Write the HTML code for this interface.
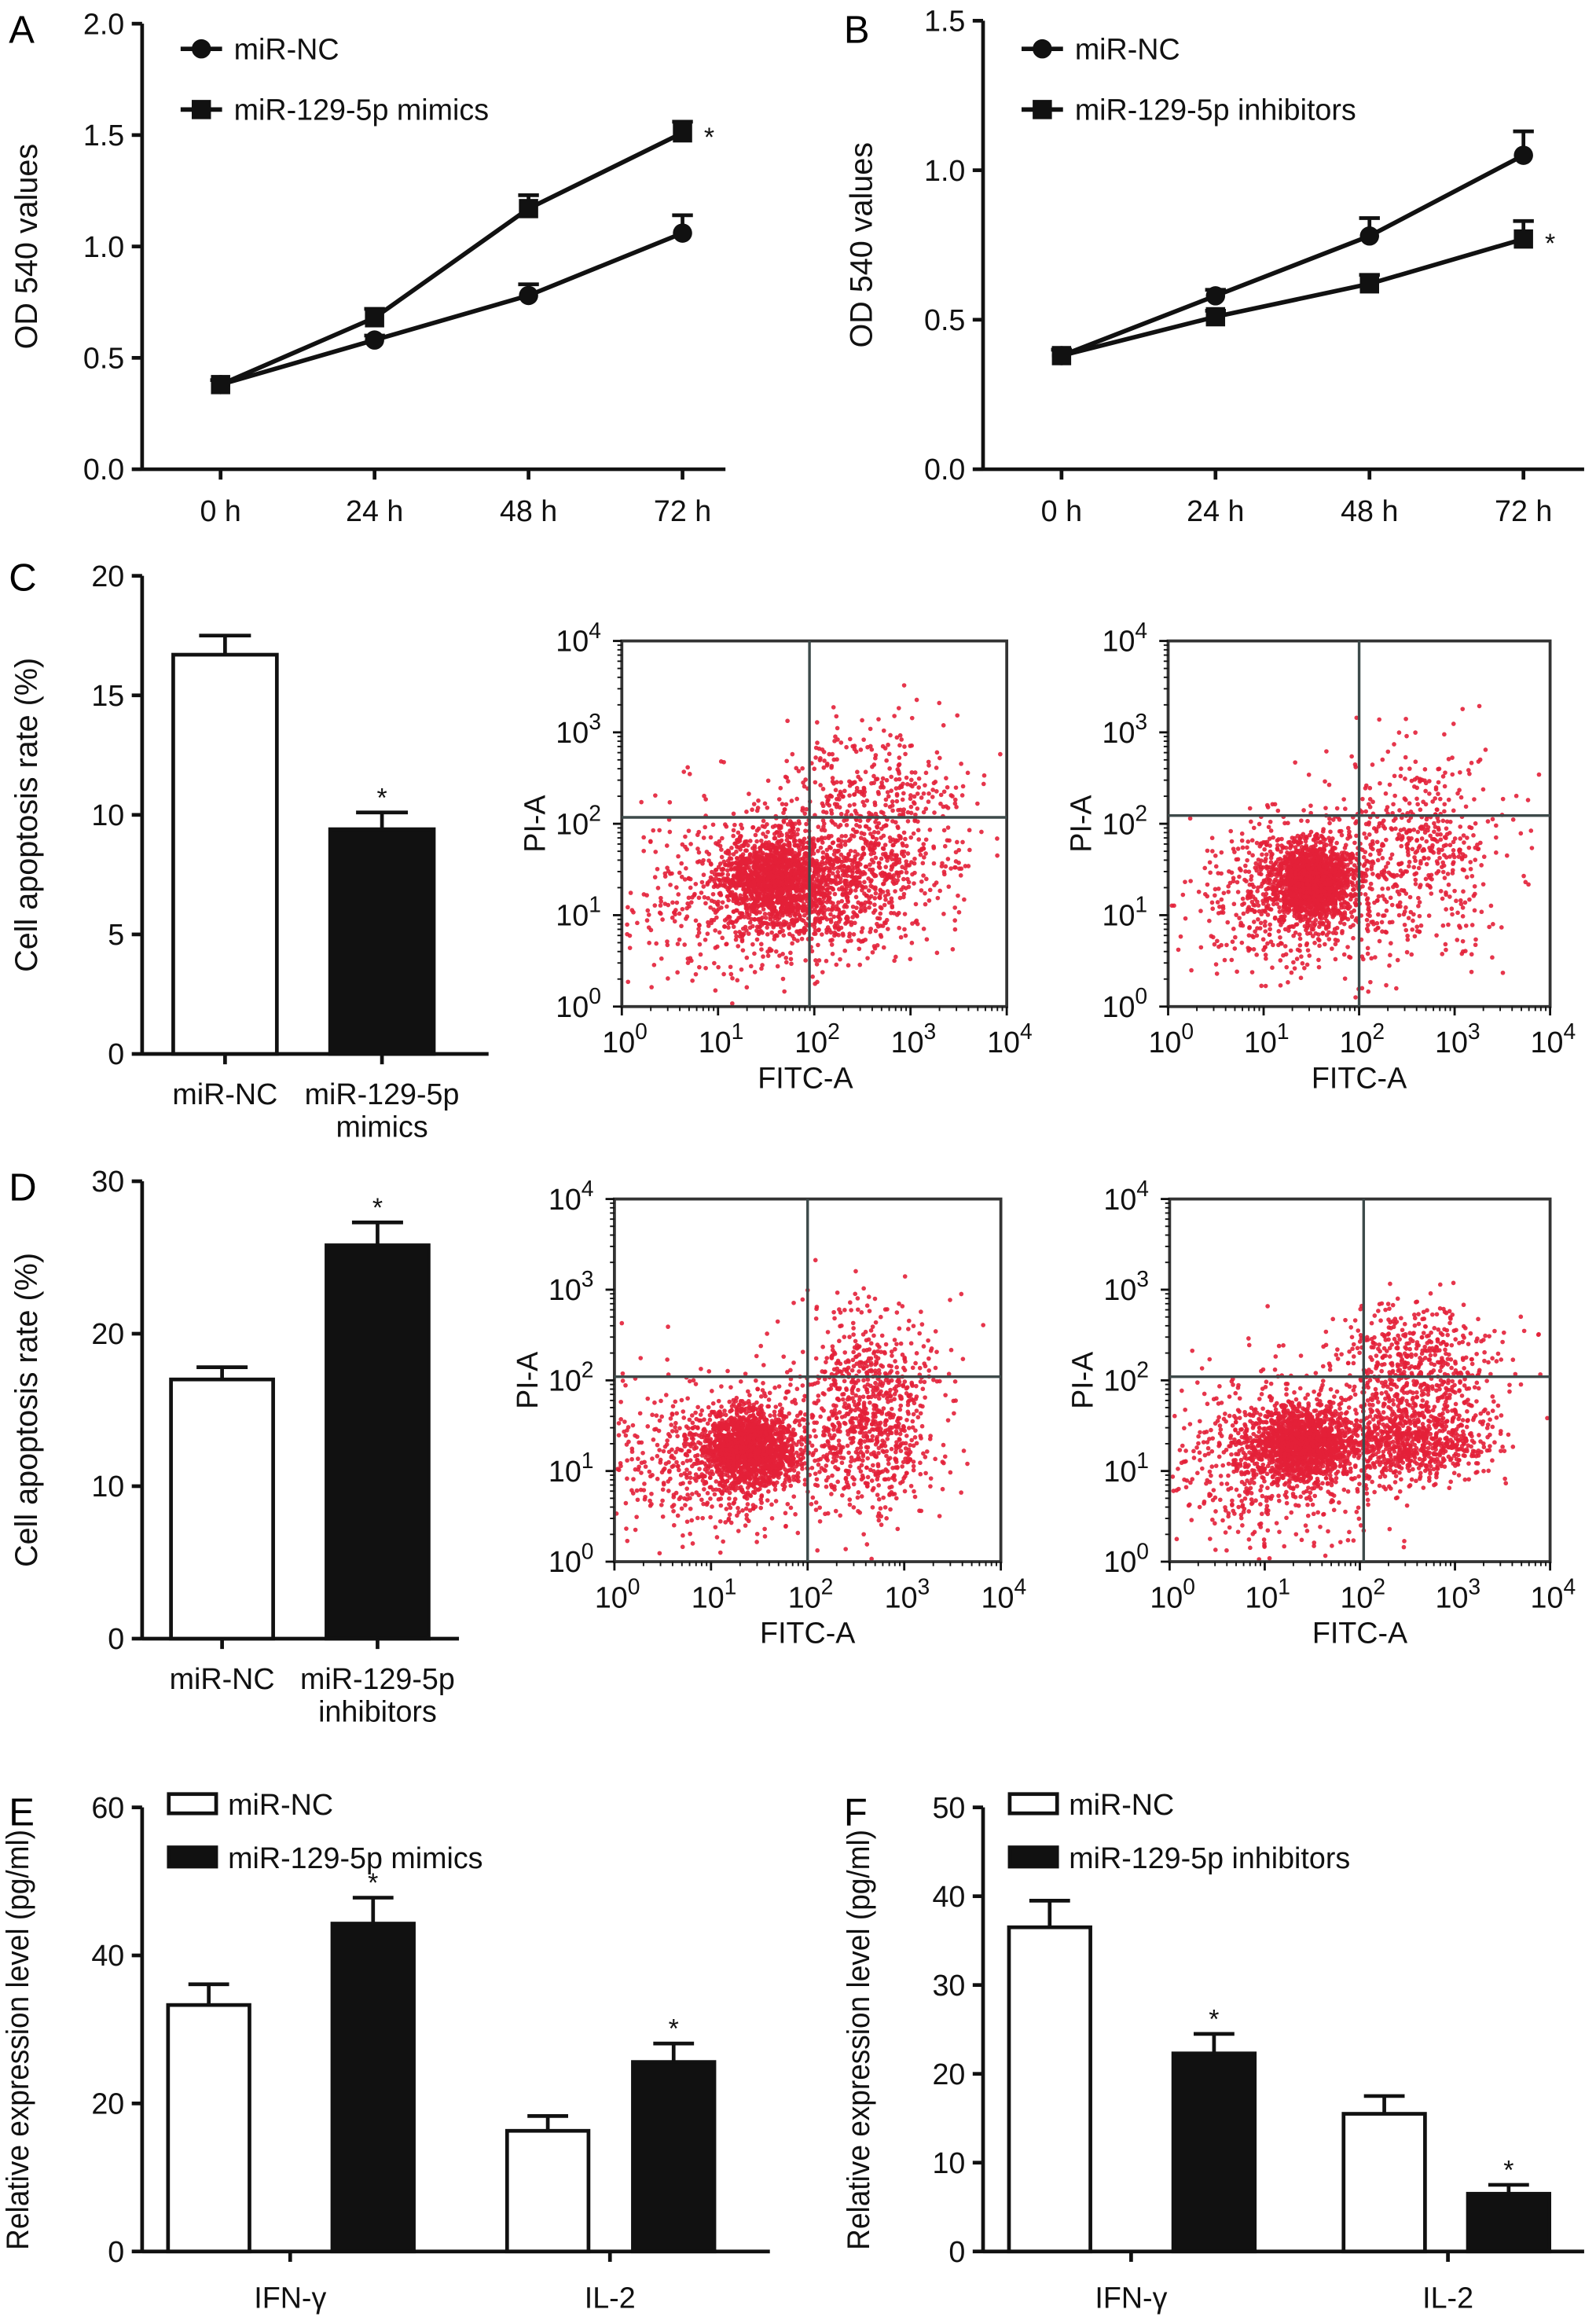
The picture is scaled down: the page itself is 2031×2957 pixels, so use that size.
<!DOCTYPE html>
<html><head><meta charset="utf-8">
<style>
html,body{margin:0;padding:0;background:#fff;}
svg{display:block;font-family:"Liberation Sans",Arial,sans-serif;}
</style></head>
<body>
<svg id="fig" xmlns="http://www.w3.org/2000/svg" width="2031" height="2957" viewBox="0 0 1078 1570" preserveAspectRatio="none">
<rect x="0" y="0" width="1078" height="1570" fill="#fff"/>
<text x="6" y="29" font-size="26">A</text>
<text x="570" y="29" font-size="26">B</text>
<text x="6" y="399" font-size="26">C</text>
<text x="6" y="811" font-size="26">D</text>
<text x="6" y="1233" font-size="26">E</text>
<text x="570" y="1233" font-size="26">F</text>
</svg>
<script>
// ---- Panel A data ----
const aCats = ['0 h','24 h','48 h','72 h'];
const aNC = [0.38,0.58,0.78,1.06];
const aNCerr = [0.02,0.02,0.05,0.08];
const aMim = [0.38,0.68,1.17,1.51];
const aMimErr = [0.02,0.04,0.06,0.05];
const aTicks = [0,0.5,1.0,1.5,2.0];
const aTickLabels = ['0.0','0.5','1.0','1.5','2.0'];
// ---- Panel B data ----
const bCats = ['0 h','24 h','48 h','72 h'];
const bNC = [0.38,0.58,0.78,1.05];
const bNCerr = [0.02,0.02,0.06,0.08];
const bInh = [0.38,0.51,0.62,0.77];
const bInhErr = [0.02,0.02,0.03,0.06];
const bTicks = [0,0.5,1.0,1.5];
const bTickLabels = ['0.0','0.5','1.0','1.5'];
// ---- Panel C bar data ----
const cCats = [['miR-NC'],['miR-129-5p','mimics']];
const cVals = [16.7,9.4];
const cErr = [0.8,0.7];
const cTicks = [0,5,10,15,20];
// ---- Panel D bar data ----
const dCats = [['miR-NC'],['miR-129-5p','inhibitors']];
const dVals = [17.0,25.8];
const dErr = [0.8,1.5];
const dTicks = [0,10,20,30];
// ---- Panel E data ----
const eGroups = ['IFN-γ','IL-2'];
const eNC = [33.3,16.3];
const eNCerr = [2.8,2.0];
const eMim = [44.3,25.6];
const eMimErr = [3.5,2.5];
const eTicks = [0,20,40,60];
// ---- Panel F data ----
const fGroups = ['IFN-γ','IL-2'];
const fNC = [36.5,15.5];
const fNCerr = [3.0,2.0];
const fInh = [22.3,6.5];
const fInhErr = [2.2,1.0];
const fTicks = [0,10,20,30,40,50];
// ---- Flow cytometry populations: [cx, cy, sx, sy, n] in log decades ----
const c1Pops = [[1.6,1.4,0.28,0.26,1500],[1.2,1.2,0.6,0.5,500],[2.6,2.0,0.5,0.55,650],[2.4,1.2,0.35,0.3,350]];
const c2Pops = [[1.5,1.35,0.22,0.22,1600],[1.2,1.2,0.5,0.45,500],[2.6,1.7,0.45,0.55,550]];
const d1Pops = [[1.4,1.25,0.25,0.22,1600],[1.0,1.1,0.6,0.45,550],[2.6,1.6,0.4,0.55,900]];
const d2Pops = [[1.4,1.3,0.28,0.2,1500],[1.1,1.1,0.6,0.5,600],[2.6,1.3,0.4,0.2,650],[2.6,2.1,0.45,0.4,650]];
const c1Quad = [1.95,2.07];
const c2Quad = [2.0,2.09];
const d1Quad = [2.0,2.04];
const d2Quad = [2.04,2.04];

const NS='http://www.w3.org/2000/svg';
const svg=document.getElementById('fig');
function mk(tag,attrs){const e=document.createElementNS(NS,tag);for(const k in attrs)e.setAttribute(k,attrs[k]);svg.appendChild(e);return e;}
function ln(x1,y1,x2,y2,w,name,col){const e=mk('line',{x1:x1,y1:y1,x2:x2,y2:y2,stroke:col||'#111','stroke-width':w||2.5});


return e;}
function tx(x,y,s,size,anchor,name){const e=mk('text',{x:x,y:y,'font-size':size,'text-anchor':anchor||'start',fill:'#111'});e.textContent=s;


return e;}
function vtx(x,y,s,size,name,len){const e=mk('text',{x:0,y:0,'font-size':size,'text-anchor':'middle',fill:'#111',transform:'translate('+x+','+y+') rotate(-90)'});
if(len){e.setAttribute('textLength',len);e.setAttribute('lengthAdjust','spacingAndGlyphs');}
e.textContent=s;


return e;}

function yAxis(ax,yTop,yBot,ymax,ticks,labels,name){
  const Y=v=>yBot-v/ymax*(yBot-yTop);
  ln(ax,yTop,ax,yBot+1,2.5,name+'-y-axis');
  ticks.forEach((t,i)=>{ln(ax-7,Y(t),ax,Y(t),2.5,name+'-y-tick');tx(ax-12,Y(t)+7,labels?labels[i]:String(t),20,'end',name+'-y-tick-label');});
  return Y;
}

function marker(x,y,shape,name){
  let e;
  if(shape==='circle') e=mk('circle',{cx:x,cy:y,r:6.5,fill:'#111'});
  else e=mk('rect',{x:x-6.5,y:y-6.5,width:13,height:13,fill:'#111'});
  
  
}

function lineChart(o){
  const Y=yAxis(o.ax,o.yTop,o.yBot,o.ymax,o.ticks,o.tickLabels,o.name);
  ln(o.ax,o.yBot,o.xEnd,o.yBot,2.5,o.name+'-x-axis');
  const X=i=>o.x0+i*o.dx;
  o.cats.forEach((c,i)=>{ln(X(i),o.yBot,X(i),o.yBot+7,2.5,o.name+'-x-tick');tx(X(i),o.yBot+35,c,20,'middle',o.name+'-x-tick-label');});
  o.series.forEach(s=>{
    const p=mk('polyline',{points:s.vals.map((v,i)=>X(i)+','+Y(v)).join(' '),fill:'none',stroke:'#111','stroke-width':3});
    
    
    s.vals.forEach((v,i)=>{
      ln(X(i),Y(v),X(i),Y(v+s.err[i]),2.5,o.name+'-error-bar');
      ln(X(i)-7,Y(v+s.err[i]),X(i)+7,Y(v+s.err[i]),2.5,o.name+'-error-cap');
      marker(X(i),Y(v),s.shape,o.name+'-point-'+s.key);
    });
    if(s.star){const i=s.vals.length-1;tx(X(i)+18,Y(s.vals[i])+9,'*',18,'middle',o.name+'-significance');}
  });
  vtx(o.titleX,(o.yTop+o.yBot)/2,'OD 540 values',21,o.name+'-y-axis-title');
  o.legend.forEach((l,i)=>{
    const y=o.legY+i*41;
    ln(o.legX,y,o.legX+28,y,3,o.name+'-legend-line');
    marker(o.legX+14,y,l.shape,o.name+'-legend-marker');
    tx(o.legX+36,y+7,l.label,20,'start',o.name+'-legend-label');
  });
}

lineChart({name:'panel-a',ax:96,yTop:16,yBot:317,ymax:2.0,ticks:aTicks,tickLabels:aTickLabels,xEnd:490,x0:149,dx:104,cats:aCats,titleX:25,
  series:[{key:'mir-nc',vals:aNC,err:aNCerr,shape:'circle'},{key:'mimics',vals:aMim,err:aMimErr,shape:'square',star:true}],
  legX:122,legY:33,legend:[{shape:'circle',label:'miR-NC'},{shape:'square',label:'miR-129-5p mimics'}]});
lineChart({name:'panel-b',ax:664,yTop:14,yBot:317,ymax:1.5,ticks:bTicks,tickLabels:bTickLabels,xEnd:1070,x0:717,dx:104,cats:bCats,titleX:589,
  series:[{key:'mir-nc',vals:bNC,err:bNCerr,shape:'circle'},{key:'inhibitors',vals:bInh,err:bInhErr,shape:'square',star:true}],
  legX:690,legY:33,legend:[{shape:'circle',label:'miR-NC'},{shape:'square',label:'miR-129-5p inhibitors'}]});

function bar(x,w,Y,v,err,fill,name,star){
  const r=mk('rect',{x:x-w/2,y:Y(v),width:w,height:Y(0)-Y(v),fill:fill,stroke:'#111','stroke-width':2.5});
  
  
  ln(x,Y(v),x,Y(v+err),2.5,name+'-error-bar');
  ln(x-w/4,Y(v+err),x+w/4,Y(v+err),2.5,name+'-error-cap');
  if(star) tx(x,Y(v+err)-4,'*',18,'middle',name+'-significance');
}

function simpleBars(o){
  const Y=yAxis(o.ax,o.yTop,o.yBot,o.ymax,o.ticks,null,o.name);
  ln(o.ax,o.yBot,o.xEnd,o.yBot,2.5,o.name+'-x-axis');
  o.vals.forEach((v,i)=>{
    const x=o.centers[i];
    bar(x,o.w,Y,v,o.err[i],i===0?'#fff':'#111',o.name+'-bar-'+i,i===1);
    ln(x,o.yBot,x,o.yBot+7,2.5,o.name+'-x-tick');
    o.cats[i].forEach((c,j)=>tx(x,o.yBot+34+j*22,c,20,'middle',o.name+'-x-tick-label'));
  });
  vtx(25,(o.yTop+o.yBot)/2,'Cell apoptosis rate (%)',21,o.name+'-y-axis-title');
}
simpleBars({name:'panel-c',ax:96,yTop:389,yBot:712,ymax:20,ticks:cTicks,xEnd:330,centers:[152,258],w:70,vals:cVals,err:cErr,cats:cCats});
simpleBars({name:'panel-d',ax:96,yTop:798,yBot:1107,ymax:30,ticks:dTicks,xEnd:310,centers:[150,255],w:69,vals:dVals,err:dErr,cats:dCats});

function groupBars(o){
  const Y=yAxis(o.ax,1221,1521,o.ymax,o.ticks,null,o.name);
  ln(o.ax,1521,o.xEnd,1521,2.5,o.name+'-x-axis');
  o.groups.forEach((g,i)=>{
    const gc=o.gc[i];
    bar(o.cNC[i],55,Y,o.nc[i],o.ncErr[i],'#fff',o.name+'-bar-nc-'+i,false);
    bar(o.cTR[i],55,Y,o.tr[i],o.trErr[i],'#111',o.name+'-bar-treated-'+i,true);
    ln(gc,1521,gc,1528,2.5,o.name+'-x-tick');
    tx(gc,1559,g,20,'middle',o.name+'-x-tick-label');
  });
  vtx(o.ax-77,1378,'Relative expression level (pg/ml)',21,o.name+'-y-axis-title',284);
  const lx=o.ax+18;
  const r1=mk('rect',{x:lx,y:1212,width:32,height:13,fill:'#fff',stroke:'#111','stroke-width':2.5});
  
  
  tx(lx+40,1226,'miR-NC',20,'start',o.name+'-legend-label');
  const r2=mk('rect',{x:lx,y:1248,width:32,height:13,fill:'#111',stroke:'#111','stroke-width':2.5});
  
  
  tx(lx+40,1262,o.label,20,'start',o.name+'-legend-label');
}
groupBars({name:'panel-e',ax:96,xEnd:520,ymax:60,ticks:eTicks,groups:eGroups,gc:[196,412],cNC:[141,370],cTR:[252,455],nc:eNC,ncErr:eNCerr,tr:eMim,trErr:eMimErr,label:'miR-129-5p mimics'});
groupBars({name:'panel-f',ax:664,xEnd:1070,ymax:50,ticks:fTicks,groups:fGroups,gc:[764,978],cNC:[709,935],cTR:[820,1019],nc:fNC,ncErr:fNCerr,tr:fInh,trErr:fInhErr,label:'miR-129-5p inhibitors'});

// seeded generator used only for the flow-cytometry event clouds
function mulberry(a){return function(){a|=0;a=a+0x6D2B79F5|0;let t=Math.imul(a^a>>>15,1|a);t=t+Math.imul(t^t>>>7,61|t)^t;return((t^t>>>14)>>>0)/4294967296;};}
function sup(x,y,exp,anchor,name){
  const e=mk('text',{x:x,y:y,'font-size':20,'text-anchor':anchor,fill:'#111'});
  
  
  const t1=document.createElementNS(NS,'tspan');t1.textContent='10';e.appendChild(t1);
  const t2=document.createElementNS(NS,'tspan');t2.setAttribute('dy','-9');t2.setAttribute('font-size','15');t2.textContent=exp;e.appendChild(t2);
}
function scatter(o){
  const X=d=>o.x0+d/4*(o.x1-o.x0), Y=d=>o.y1-d/4*(o.y1-o.y0);
  const rnd=mulberry(o.seed);
  const g=()=>{let u=rnd()||1e-9,v=rnd();return Math.sqrt(-2*Math.log(u))*Math.cos(2*Math.PI*v);};
  const grp=document.createElementNS(NS,'g');grp.setAttribute('fill','#e32038');grp.setAttribute('fill-opacity','0.9');
  
  
  svg.appendChild(grp);
  o.pops.forEach(p=>{
    for(let k=0;k<p[4];k++){
      const dx=p[0]+p[2]*g(), dy=p[1]+p[3]*g();
      if(dx<0.02||dx>3.98||dy<0.02||dy>3.98)continue;
      const c=document.createElementNS(NS,'circle');
      c.setAttribute('cx',X(dx).toFixed(1));c.setAttribute('cy',Y(dy).toFixed(1));c.setAttribute('r','1.5');
      
      
      grp.appendChild(c);
    }
  });
  const b=mk('rect',{x:o.x0,y:o.y0,width:o.x1-o.x0,height:o.y1-o.y0,fill:'none',stroke:'#333','stroke-width':2});
  
  
  ln(X(o.q[0]),o.y0,X(o.q[0]),o.y1,1.8,o.name+'-quadrant-vertical','#3d4a4a');
  ln(o.x0,Y(o.q[1]),o.x1,Y(o.q[1]),1.8,o.name+'-quadrant-horizontal','#3d4a4a');
  for(let d=0;d<=4;d++){
    ln(X(d),o.y1,X(d),o.y1+6,1.5,o.name+'-x-tick');
    ln(o.x0-6,Y(d),o.x0,Y(d),1.5,o.name+'-y-tick');
    sup(X(d)+2,o.y1+31,String(d),'middle',o.name+'-x-tick-label');
    sup(o.x0-14,Y(d)+7,String(d),'end',o.name+'-y-tick-label');
    if(d<4)for(let m=2;m<10;m++){const f=Math.log10(m);ln(X(d+f),o.y1,X(d+f),o.y1+3,1,o.name+'-x-minor-tick');ln(o.x0-3,Y(d+f),o.x0,Y(d+f),1,o.name+'-y-minor-tick');}
  }
  tx((o.x0+o.x1)/2+(o.fitcOff||0),o.y1+55,'FITC-A',20,'middle',o.name+'-x-axis-title');
  vtx(o.x0-52,(o.y0+o.y1)/2,'PI-A',20,o.name+'-y-axis-title');
}
scatter({name:'flow-c-nc',x0:420,x1:680,y0:433,y1:680,q:c1Quad,pops:c1Pops,seed:11,fitcOff:-6});
scatter({name:'flow-c-mimics',x0:789,x1:1047,y0:433,y1:680,q:c2Quad,pops:c2Pops,seed:23});
scatter({name:'flow-d-nc',x0:415,x1:676,y0:810,y1:1055,q:d1Quad,pops:d1Pops,seed:37});
scatter({name:'flow-d-inhibitors',x0:790,x1:1047,y0:810,y1:1055,q:d2Quad,pops:d2Pops,seed:53});
</script>
</body></html>
